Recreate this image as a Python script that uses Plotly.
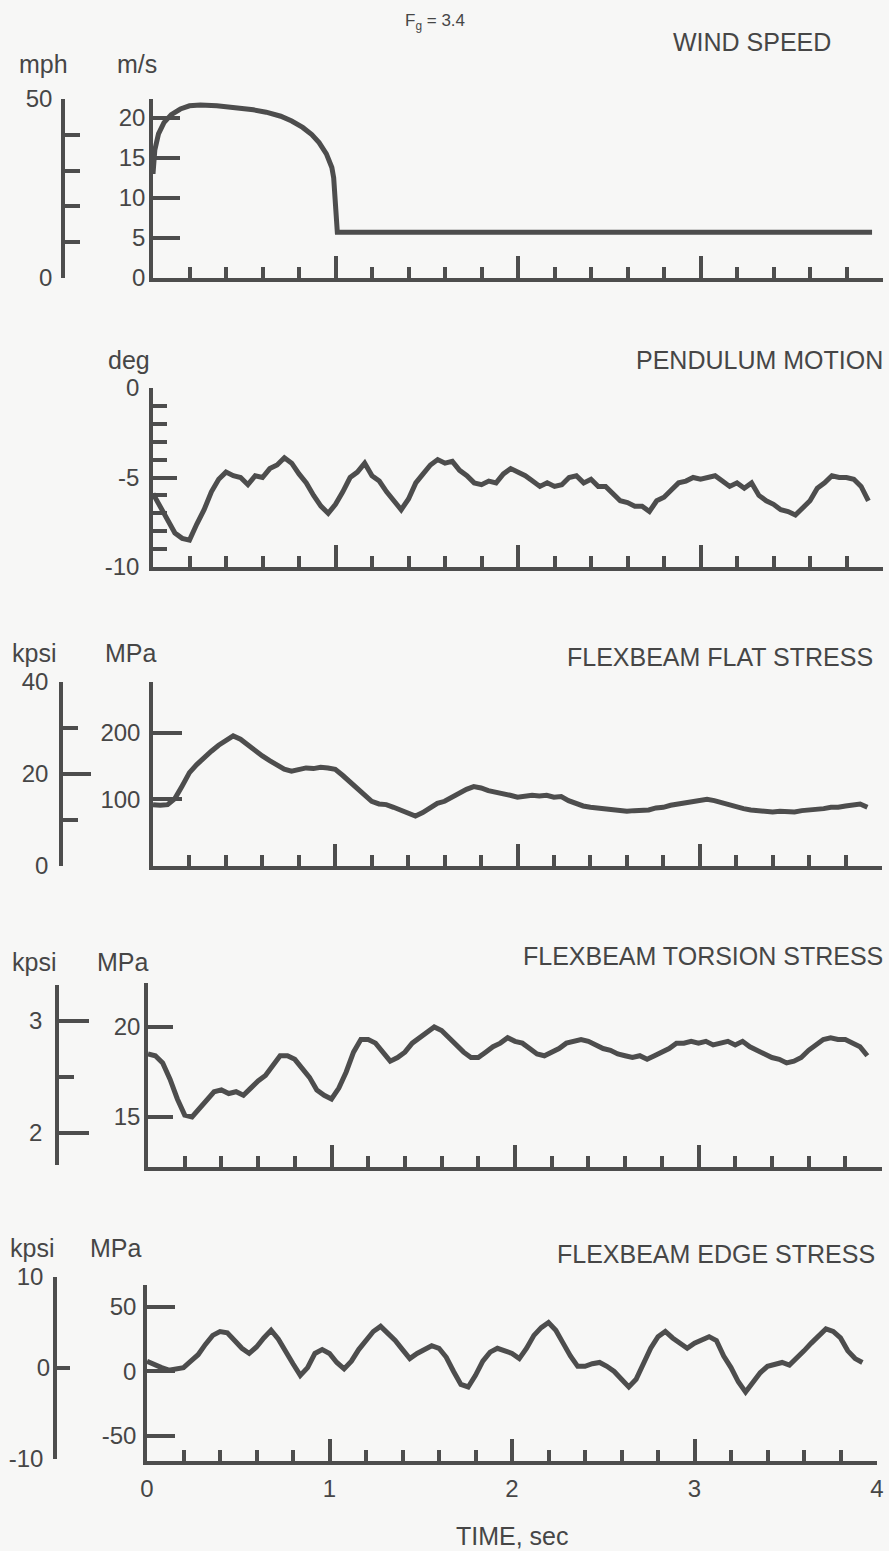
import plotly.graph_objects as go

W, H = 889, 1551
INK = "#4d4d4d"
TXT = "#464646"
FONT = "Liberation Sans, Arial, Helvetica, sans-serif"

# ---------------- data ----------------
# wind speed (m/s) against time (s)
wind_t = [0, 0.01, 0.03, 0.06, 0.10, 0.15, 0.20, 0.26, 0.35, 0.45, 0.55, 0.62,
          0.70, 0.76, 0.82, 0.87, 0.91, 0.95, 0.98, 0.99, 1.0, 1.01, 2.0, 3.0, 3.94]
wind_ms = [13, 16, 18, 19.4, 20.4, 21.1, 21.5, 21.6, 21.5, 21.3, 21.0, 20.7,
           20.2, 19.6, 18.8, 17.9, 16.9, 15.5, 13.8, 12.5, 9, 5.7, 5.7, 5.7, 5.7]

# recorded channels, sampled every 0.04 s from t = 0
SAMPLE_DT = 0.04
pendulum_deg = [
    -5.9, -6.6, -7.3, -8.1, -8.4, -8.5, -7.6, -6.8, -5.8, -5.1, -4.7, -4.9, -5.0,
    -5.4, -4.9, -5.0, -4.5, -4.3, -3.9, -4.2, -4.8, -5.3, -6.0, -6.6, -7.0, -6.5,
    -5.8, -5.0, -4.7, -4.2, -4.9, -5.2, -5.8, -6.3, -6.8, -6.2, -5.3, -4.8, -4.3,
    -4.0, -4.2, -4.1, -4.6, -4.9, -5.3, -5.4, -5.2, -5.3, -4.8, -4.5, -4.7, -4.9,
    -5.2, -5.5, -5.3, -5.5, -5.4, -5.0, -4.9, -5.3, -5.1, -5.5, -5.5, -5.9, -6.3,
    -6.4, -6.6, -6.6, -6.9, -6.3, -6.1, -5.7, -5.3, -5.2, -5.0, -5.1, -5.0, -4.9,
    -5.2, -5.5, -5.3, -5.6, -5.3, -6.0, -6.3, -6.5, -6.8, -6.9, -7.1, -6.7, -6.3,
    -5.6, -5.3, -4.9, -5.0, -5.0, -5.1, -5.5, -6.3]
flat_mpa = [
    92, 91, 92, 101, 120, 140, 152, 163, 172, 181, 189, 195, 190, 181, 172, 165,
    158, 151, 145, 142, 144, 147, 146, 148, 147, 145, 136, 126, 115, 107, 97, 93,
    92, 88, 83, 79, 75, 80, 87, 94, 97, 103, 110, 115, 119, 117, 113, 111, 108,
    106, 103, 104, 106, 105, 106, 103, 104, 98, 93, 90, 88, 87, 86, 85, 83, 82,
    83, 83, 84, 87, 88, 91, 93, 95, 97, 99, 100, 98, 95, 91, 88, 86, 84, 83, 82,
    81, 82, 81, 81, 83, 84, 84, 86, 88, 88, 90, 92, 93, 88]
torsion_mpa = [
    18.5, 18.4, 18.0, 17.1, 16.0, 15.1, 15.0, 15.5, 16.0, 16.4, 16.5, 16.3, 16.4,
    16.2, 16.6, 17.0, 17.3, 17.9, 18.4, 18.4, 18.2, 17.7, 17.2, 16.5, 16.2, 16.0,
    16.6, 17.5, 18.6, 19.3, 19.3, 19.1, 18.6, 18.1, 18.3, 18.6, 19.1, 19.4, 19.7,
    20.0, 19.8, 19.4, 19.0, 18.6, 18.3, 18.3, 18.6, 18.9, 19.1, 19.4, 19.2, 19.1,
    18.8, 18.5, 18.4, 18.6, 18.8, 19.1, 19.2, 19.3, 19.2, 19.0, 18.8, 18.7, 18.5,
    18.4, 18.3, 18.4, 18.2, 18.4, 18.6, 18.8, 19.1, 19.1, 19.2, 19.1, 19.2, 19.0,
    19.1, 19.2, 19.0, 19.2, 18.9, 18.7, 18.5, 18.3, 18.2, 18.0, 18.1, 18.3, 18.7,
    19.0, 19.3, 19.4, 19.3, 19.3, 19.1, 18.9, 18.4]
edge_mpa = [
    8, 5, 3, 1, 2, 3, 8, 13, 21, 28, 31, 30, 24, 18, 14, 19, 26, 32, 25, 15, 6,
    -3, 3, 14, 17, 14, 7, 2, 8, 17, 24, 31, 35, 30, 24, 17, 10, 14, 17, 20, 18,
    11, 0, -10, -12, -3, 8, 15, 18, 16, 14, 10, 18, 28, 34, 38, 32, 22, 12, 4, 4,
    6, 7, 4, 0, -6, -12, -6, 6, 18, 27, 31, 26, 22, 18, 22, 25, 27, 24, 12, 3, -8,
    -16, -8, -1, 4, 6, 7, 5, 10, 16, 22, 28, 33, 31, 26, 16, 10, 7]

x_ticks = [0, 1, 2, 3, 4]


def times(vals):
    return [round(i * SAMPLE_DT, 2) for i in range(len(vals))]


def tick_text(vals):
    # plain hyphen for negative numbers, as typeset on the original scales
    return [str(v) for v in vals]


# ---------------- geometry helpers (pixel -> paper fraction) ----------------
def xdom(left, right):
    return [left / W, right / W]


def ydom(top, bottom):
    return [1 - bottom / H, 1 - top / H]


# plot areas of the five strips: (x0, x4, top, baseline) in pixels
strips = [
    (153, 883, 99, 278),
    (153, 883, 388, 567),
    (153, 882, 682, 866),
    (148, 882, 983, 1167),
    (147, 877, 1285, 1461),
]

line_style = dict(color=INK, width=5)
fig = go.Figure()

series = [
    (wind_t, wind_ms),
    (times(pendulum_deg), pendulum_deg),
    (times(flat_mpa), flat_mpa),
    (times(torsion_mpa), torsion_mpa),
    (times(edge_mpa), edge_mpa),
]
for i, (tx, vy) in enumerate(series, start=1):
    fig.add_trace(go.Scatter(x=tx, y=vy, mode="lines", line=line_style,
                             xaxis=f"x{i}", yaxis=f"y{i}", showlegend=False,
                             hoverinfo="skip"))

# empty traces that bring the secondary (imperial-unit) axes into being
for xa, ya in [("x1", "y6"), ("x3", "y7"), ("x4", "y8"), ("x5", "y9"), ("x5", "y10")]:
    fig.add_trace(go.Scatter(x=[], y=[], xaxis=xa, yaxis=ya, showlegend=False,
                             hoverinfo="skip"))

tickfont = dict(size=24, color=TXT, family=FONT)
base_axis = dict(showgrid=False, zeroline=False, showline=True, linecolor=INK,
                 linewidth=3.5, ticks="inside", tickcolor=INK, tickwidth=3.5,
                 tickfont=tickfont, fixedrange=True, autorange=False,
                 automargin=False)

layout = {}
for i, (x0, x4, top, base) in enumerate(strips, start=1):
    sfx = "" if i == 1 else str(i)
    layout[f"xaxis{sfx}"] = dict(
        base_axis, domain=xdom(x0, x4), anchor=f"y{i}", range=[0, 4],
        tickvals=x_ticks, ticktext=tick_text(x_ticks), ticklen=22,
        showticklabels=(i == 5), ticklabelstandoff=3,
        minor=dict(dtick=0.2, tick0=0, ticks="inside", ticklen=11,
                   tickwidth=3.5, tickcolor=INK, showgrid=False))


def yticks(vals):
    return dict(tickvals=vals, ticktext=tick_text(vals))


# inner (SI) axes
inner = [
    dict(range=[0, 22.35], ticklen=27, ticklabelstandoff=-1, **yticks([0, 5, 10, 15, 20])),
    dict(range=[-10, 0], ticklen=24, ticklabelstandoff=5, **yticks([-10, -5, 0]),
         minor=dict(dtick=1, tick0=0, ticks="inside", ticklen=14, tickwidth=3.5,
                    tickcolor=INK, showgrid=False)),
    dict(range=[0, 275.8], ticklen=29, ticklabelstandoff=4, **yticks([100, 200])),
    dict(range=[12.22, 22.44], ticklen=25, ticklabelstandoff=-1, **yticks([15, 20])),
    dict(range=[-69.4, 67.05], ticklen=28, ticklabelstandoff=2, **yticks([-50, 0, 50])),
]
for i, ((x0, x4, top, base), spec) in enumerate(zip(strips, inner), start=1):
    sfx = "" if i == 1 else str(i)
    layout[f"yaxis{sfx}"] = dict(base_axis, domain=ydom(top, base),
                                 anchor=f"x{i}", **spec)


# outer (imperial) axes
def minor_short(d, ln):
    return dict(dtick=d, tick0=0, ticks="inside", ticklen=ln,
                tickwidth=3.5, tickcolor=INK, showgrid=False)


outer = {
    "yaxis6": dict(position=63 / W, domain=ydom(99, 278), range=[0, 50],
                   ticklen=25, ticklabelstandoff=4, **yticks([0, 50]),
                   minor=minor_short(10, 15)),
    "yaxis7": dict(position=61 / W, domain=ydom(682, 866), range=[0, 40],
                   ticklen=28, ticklabelstandoff=6, **yticks([0, 20, 40]),
                   minor=minor_short(10, 15)),
    "yaxis8": dict(position=57 / W, domain=ydom(985, 1165), range=[1.714, 3.321],
                   ticklen=30, ticklabelstandoff=8, **yticks([2, 3]),
                   minor=minor_short(0.5, 15)),
    "yaxis9": dict(position=55 / W, domain=ydom(1277, 1459), range=[-10, 10],
                   ticklen=28, ticklabelstandoff=5, **yticks([-10, 10]),
                   minor=minor_short(10, 13)),
}
for name, spec in outer.items():
    layout[name] = dict(base_axis, anchor="free", **spec)
# label for the short centre tick of the edge-stress kpsi scale
layout["yaxis10"] = dict(base_axis, anchor="free", overlaying="y9",
                         position=55 / W, range=[-10, 10], ticks="",
                         showline=False, ticklabelstandoff=5, **yticks([0]))

fig.update_layout(**layout)


# ---------------- text ----------------
def label(text, x, y, anchor="left", size=25):
    fig.add_annotation(text=text, x=x / W, y=1 - y / H, xref="paper", yref="paper",
                       xanchor=anchor, yanchor="middle", showarrow=False,
                       font=dict(size=size, color=TXT, family=FONT))


label("F<sub>g</sub> = 3.4", 403, 22, size=17)
label("WIND SPEED", 833, 42, anchor="right")
label("mph", 17, 64)
label("m/s", 115, 64)
label("deg", 106, 360)
label("PENDULUM MOTION", 885, 360, anchor="right")
label("kpsi", 10, 653)
label("MPa", 103, 653)
label("FLEXBEAM FLAT STRESS", 875, 657, anchor="right")
label("kpsi", 10, 962)
label("MPa", 95, 962)
label("FLEXBEAM TORSION STRESS", 885, 956, anchor="right")
label("kpsi", 8, 1248)
label("MPa", 88, 1248)
label("FLEXBEAM EDGE STRESS", 877, 1254, anchor="right")
label("TIME, sec", 512, 1536, anchor="center")

fig.update_layout(width=W, height=H, margin=dict(l=0, r=0, t=0, b=0, autoexpand=False),
                  paper_bgcolor="#f7f7f6", plot_bgcolor="rgba(0,0,0,0)",
                  showlegend=False)

fig.write_html("out.html")
